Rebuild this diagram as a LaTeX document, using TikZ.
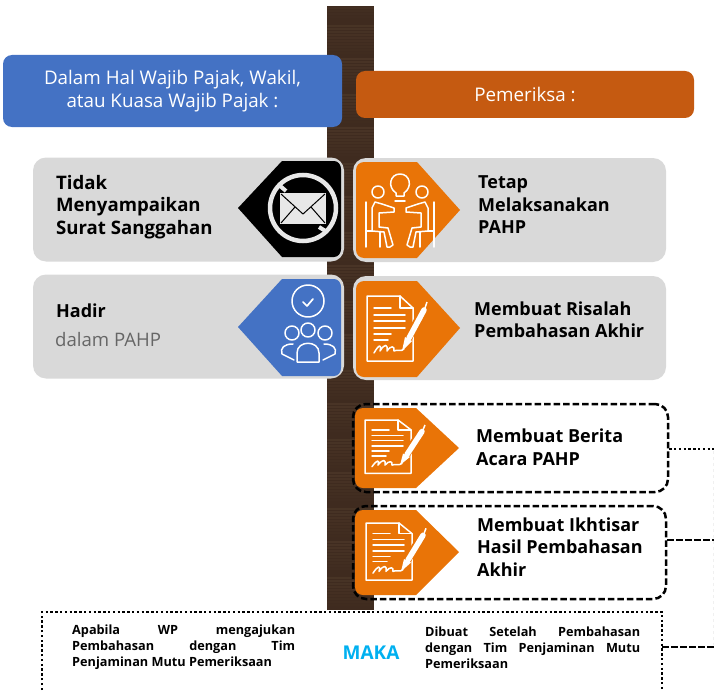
\documentclass[tikz,border=0pt]{standalone}
\usepackage{fontspec}
\setmainfont{Open Sans}
\usetikzlibrary{positioning}
\definecolor{woodbase}{HTML}{3F2B1F}
\definecolor{woodlight}{HTML}{5A4432}
\definecolor{headblue}{HTML}{4472C4}
\definecolor{headorange}{HTML}{C55A11}
\definecolor{tagorange}{HTML}{E97407}
\definecolor{rowgrey}{HTML}{D9D9D9}
\definecolor{makablue}{HTML}{00B0F0}
\newcommand{\jline}[2]{\makebox[#1pt][s]{#2}}
\newcommand{\tagright}[4]{\fill[tagorange] (#1+7,#2) -- (#1+60,#2) -- (#1+103,#4) -- (#1+60,#3) -- (#1+7,#3) to[out=180,in=270] (#1-1,#3-8) -- (#1-1,#2+8) to[out=90,in=180] cycle;}
\newcommand{\tagleft}[4]{\path[fill=#4] (341-7,#1) -- (282,#1) -- (238,#3) -- (282,#2) -- (341-7,#2) to[out=0,in=270] (341,#2-8) -- (341,#1+8) to[out=90,in=0] cycle;}
\tikzset{
  headbox/.style={rounded corners=9pt, inner sep=0pt, text=white, align=center, font=\fontsize{18.8}{22.5}\selectfont},
  greybox/.style={fill=rowgrey, rounded corners=13pt, minimum height=104pt, inner sep=0pt},
  dashbox/.style={draw=black, line width=2.5pt, dash pattern=on 6.5pt off 3pt, rounded corners=13pt, inner sep=0pt},
  rowtext/.style={anchor=west, align=left, inner sep=0pt, font=\fontsize{18}{22.5}\selectfont\bfseries},
  smalltext/.style={anchor=north west, align=left, inner sep=0pt, font=\fontsize{12.7}{16}\selectfont\bfseries},
  dotline/.style={line width=2.6pt, dash pattern=on 2.4pt off 2.4pt},
  dashline/.style={line width=2.5pt, dash pattern=on 6.5pt off 2.5pt},
  icon/.style={draw=white, line width=1.5pt, line join=round, line cap=round},
  pics/docicon/.style={code={
    \draw[icon] (0,0) -- (33,0) -- (46,12) -- (46,65) -- (0,65) -- cycle;
    \draw[icon] (33,0) -- (33,12) -- (46,12);
    \foreach \ly/\lx in {12/24,19/38,25/38,32/38,38/24,44/21}
      \draw[icon] (7,\ly) -- (\lx,\ly);
    \draw[tagorange, line width=8pt] (58,11) -- (38,48);
    \draw[white, line width=5.5pt, line cap=round] (57,14) -- (42,42);
    \fill[white] (38,41) -- (45,45) -- (35,55) -- cycle;
    \draw[white, line width=1.5pt] (60,6) -- (54,24);
    \draw[icon] (7,57) .. controls (12,48) and (15,48) .. (13,55) .. controls (18,47) and (21,48) .. (20,55) .. controls (24,49) and (28,50) .. (27,55) .. controls (30,53) and (34,56) .. (37,53);
  }},
  pics/meetperson/.style={code={
    \draw[icon] (-28,21) -- (-28,-2) -- (-25,-8) -- (-18,-6) -- (-6,-2) -- (-6,2) -- (-21,3) -- (-21,17) -- (-12,18) -- (-7,35) -- (-10,37) -- (-13,37) -- (-16,22) -- (-28,21);
    \draw[icon] (-34,-8) -- (-34,37);
    \draw[icon] (-34,21) -- (-28,21);
    \draw[icon] (-20,22) -- (-20,37);
    \draw[icon] (-22,-18) circle (6);
  }},
  pics/teamicon/.style={code={
    \draw[icon] (0,-29) circle (16);
    \draw[icon, line width=1.7pt] (-5,-28) -- (-1,-24) -- (5,-31);
    \draw[icon] (0,0) circle (7) (-16,3) circle (7) (17,3) circle (7);
    \draw[icon] (-11,32) -- (-11,23) .. controls (-11,10) and (11,10) .. (11,23) -- (11,32) -- cycle;
    \draw[icon] (-14,30) -- (-26,24) .. controls (-28,18) and (-24,14) .. (-15,14);
    \draw[icon] (15,30) -- (27,24) .. controls (29,18) and (25,14) .. (16,14);
  }},
  pics/nomail/.style={code={
    \draw[rowgrey!60!white, line width=4.5pt] (0,0) circle (33);
    \fill[rowgrey!60!white] (-23,-15) rectangle (23,16);
    \draw[black, line width=1pt] (-22,-14) -- (0,6) -- (22,-14);
    \draw[black, line width=1pt] (-22,15) -- (-8,-1);
    \draw[black, line width=1pt] (22,15) -- (8,-1);
    \draw[rowgrey!60!white, line width=4pt] (-24,-23) -- (-17,-17);
    \draw[rowgrey!60!white, line width=4pt] (16,19) -- (24,24);
  }}
}
\begin{document}
\begin{tikzpicture}[x=1pt, y=-1pt]
  \useasboundingbox (0,0) rectangle (714,690);
  % wood post
  \fill[woodbase] (327,6) rectangle (374,610);
  \foreach \sy in {8,11,...,608} {
    \pgfmathsetmacro{\sop}{mod(\sy*7,23)/23*0.4}
    \draw[woodlight, opacity=\sop, line width=2pt] (327,\sy) -- (374,\sy);
  }

  \node[headbox, fill=headblue, minimum width=339pt, minimum height=72pt] (wp) at (172.5,91) {Dalam Hal Wajib Pajak, Wakil,\\atau Kuasa Wajib Pajak :};
  \node[headbox, fill=headorange, minimum width=338pt, minimum height=47pt] (pemeriksa) at (525,94.5) {Pemeriksa :};

  % grey rows
  \node[greybox, minimum width=311pt] (rowa) at (188.5,209.5) {};
  \node[greybox, minimum width=311pt] (rowb) at (188.5,326.5) {};
  \node[greybox, minimum width=313pt] (rowc) at (509.5,210) {};
  \node[greybox, minimum width=313pt] (rowd) at (509.5,328) {};
  \node[dashbox, minimum width=315pt, minimum height=88pt] (beritabox) at (510.5,448) {};
  \node[dashbox, minimum width=313pt, minimum height=93pt] (ikhtisarbox) at (509.5,552.5) {};

  \tagleft{161}{257}{208}{black}
  \tagleft{279}{376}{327}{headblue}
  \tagright{357}{162}{258}{210}
  \tagright{357}{281}{377}{328}
  \tagright{356}{408}{488}{448}
  \tagright{356}{510}{595}{552}

  % icons
  \pic at (303,208) {nomail};
  \pic at (308,330) {teamicon};
  \pic at (367,296) {docicon};
  \pic[yscale=.82] at (365,420) {docicon};
  \pic[yscale=.88] at (366,523) {docicon};
  \draw[icon] (400,185) ++(-4,11) -- (396,193) .. controls (387,187) and (390,174) .. (400,174) .. controls (410,174) and (413,187) .. (404,193) -- (404,196) -- cycle;
  \draw[icon] (395,201) -- (405,201);
  \pic at (400,210) {meetperson};
  \pic[xscale=-1] at (400,210) {meetperson};

  % labels
  \node[rowtext, font=\fontsize{18.6}{22.5}\selectfont\bfseries] (tidak) at (56,207) {Tidak\\Menyampaikan\\Surat Sanggahan};
  \node[rowtext] (hadir) at (56,311) {Hadir};
  \node[rowtext, font=\fontsize{18.6}{22.5}\selectfont, text=black!60] (dalam) at (55,340) {dalam PAHP};
  \node[rowtext] (tetap) at (478,205) {Tetap\\Melaksanakan\\PAHP};
  \node[rowtext] (risalah) at (474,319.5) {Membuat Risalah\\Pembahasan Akhir};
  \node[rowtext] (berita) at (476,447) {Membuat Berita\\Acara PAHP};
  \node[rowtext] (ikhtisar) at (477,547) {Membuat Ikhtisar\\Hasil Pembahasan\\Akhir};

  % bottom box
  \draw[dotline] (42,690) -- (42,612) -- (662,612) -- (662,690);
  \coordinate (maka east) at (662,647);
  \node[smalltext] (apabila) at (72,625) {\jline{223}{Apabila WP mengajukan}\\\jline{223}{Pembahasan dengan Tim}\\Penjaminan Mutu Pemeriksaan};
  \node[smalltext] (dibuat) at (425,627) {\jline{215}{Dibuat Setelah Pembahasan}\\\jline{215}{dengan Tim Penjaminan Mutu}\\Pemeriksaan};
  \node[inner sep=0pt, text=makablue, font=\fontsize{19}{22}\selectfont\bfseries] (maka) at (371,653) {MAKA};

  % connectors leaving the page
  \coordinate (edgea) at (714,449);
  \coordinate (edgeb) at (714,540);
  \coordinate (edgec) at (714,647);
  \draw[dotline] (beritabox.east |- edgea) -- (edgea);
  \draw[dashline] (ikhtisarbox.east |- edgeb) -- (edgeb);
  \draw[dashline] (maka east) -- (edgec);
  \draw[black!6, dashed, line width=.4pt] (713,451) -- (713,645);
\end{tikzpicture}
\end{document}
